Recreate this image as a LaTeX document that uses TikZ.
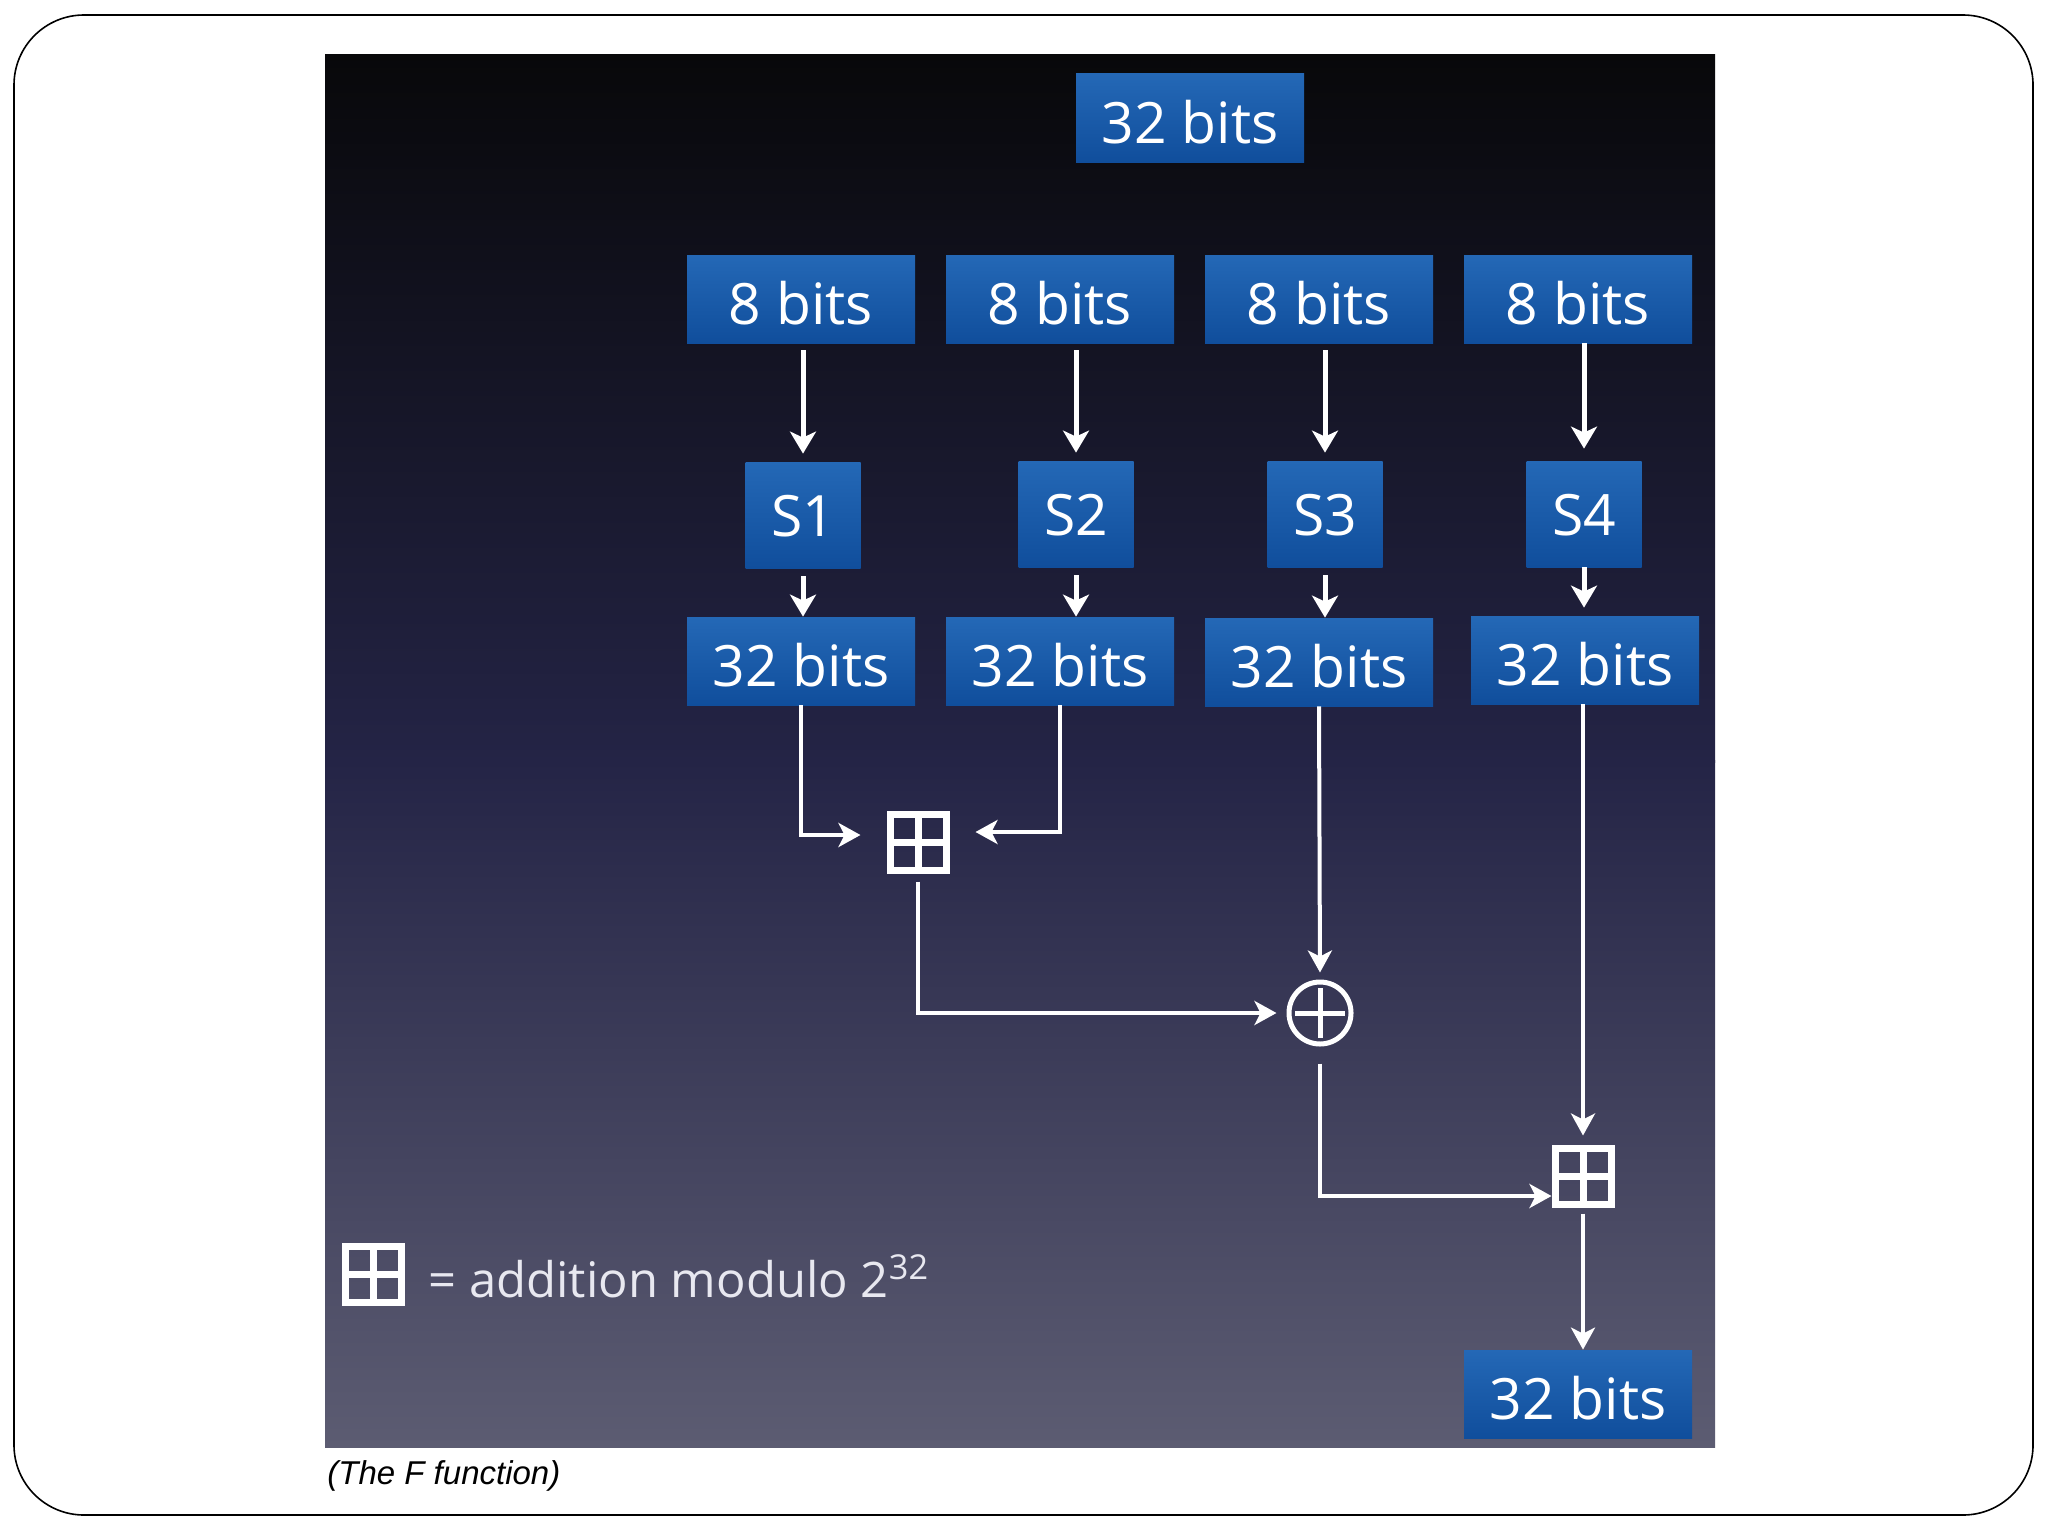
\documentclass[tikz,border=0pt]{standalone}
\usepackage{fontspec}
\setmainfont{Open Sans}
\newfontfamily\capfont{Liberation Sans}
\usetikzlibrary{arrows.meta}

\definecolor{boxtop}{RGB}{36,104,182}
\definecolor{boxbot}{RGB}{16,78,156}
\definecolor{paneltop}{RGB}{8,8,10}
\definecolor{panelmid}{RGB}{36,36,70}
\definecolor{panelbot}{RGB}{92,92,114}
\definecolor{legtext}{RGB}{232,232,240}

\tikzset{
  bitbox/.style={rectangle, top color=boxtop, bottom color=boxbot, text=white, inner sep=0pt,
    minimum width=114pt, minimum height=44pt, text height=25pt, text depth=0pt,
    font=\fontsize{28.5}{30}\selectfont},
  sbox/.style={bitbox, minimum width=57.5pt, minimum height=53pt, text height=21pt},
  addbox/.style={rectangle, draw=white, line width=3.5pt, minimum size=28pt, inner sep=0pt,
    path picture={\draw[white, line width=3.5pt]
      (path picture bounding box.north) -- (path picture bounding box.south)
      (path picture bounding box.west) -- (path picture bounding box.east);}},
  xorop/.style={circle, draw=white, line width=2.5pt, minimum size=31pt, inner sep=0pt,
    path picture={\draw[white, line width=2.5pt, shorten <=3pt, shorten >=3pt]
      (path picture bounding box.north) -- (path picture bounding box.south);
      \draw[white, line width=2.5pt, shorten <=3pt, shorten >=3pt]
      (path picture bounding box.west) -- (path picture bounding box.east);}},
  flow/.style={draw=white, line width=2.5pt, -{Stealth[length=11pt, width=13pt, inset=3pt]}},
  thinflow/.style={draw=white, line width=2pt, -{Stealth[length=11pt, width=12pt, inset=3pt]}},
}

\begin{document}
\begin{tikzpicture}[x=0.5pt, y=-0.5pt]

    \useasboundingbox (0,0) rectangle (2048,1536);

    % Slide frame and dark panel
    \draw[line width=0.8pt, rounded corners=35pt] (14,15) rectangle (2033,1515);
    \shade[top color=paneltop, bottom color=panelmid] (325,55) rectangle (1715,762);
    \shade[top color=panelmid, bottom color=panelbot] (325,760) rectangle (1715,1447);

    % Input word
    \node[bitbox] (In) at (1190,118) {32 bits};

    % Four bytes
    \node[bitbox] (B1) at (801,299) {8 bits};
    \node[bitbox] (B2) at (1060,299) {8 bits};
    \node[bitbox] (B3) at (1319,299) {8 bits};
    \node[bitbox] (B4) at (1578,299) {8 bits};

    % S-boxes
    \node[sbox] (S1) at (803,515) {S1};
    \node[sbox] (S2) at (1076,514) {S2};
    \node[sbox] (S3) at (1325,514) {S3};
    \node[sbox] (S4) at (1584,514) {S4};

    % S-box outputs
    \node[bitbox] (W1) at (801,661) {32 bits};
    \node[bitbox] (W2) at (1060,661) {32 bits};
    \node[bitbox] (W3) at (1319,662) {32 bits};
    \node[bitbox] (W4) at (1585,660) {32 bits};

    % Combining operators
    \node[addbox] (P1) at (918,842) {};
    \node[xorop] (X) at (1320,1013) {};
    \node[addbox] (P2) at (1583,1176) {};

    % Output word
    \node[bitbox] (Out) at (1578,1394) {32 bits};

    % Bytes into S-boxes
    \draw[flow, shorten <=3.5pt, shorten >=4pt] (S1.north |- B1.south) -- (S1.north);
    \draw[flow, shorten <=3.5pt, shorten >=4pt] (S2.north |- B2.south) -- (S2.north);
    \draw[flow, shorten <=3.5pt, shorten >=4pt] (S3.north |- B3.south) -- (S3.north);
    \draw[flow, shorten >=6pt] (S4.north |- B4.south) -- (S4.north);

    % S-boxes into 32 bit words
    \draw[flow, shorten <=4pt] (S1.south) -- (S1.south |- W1.north);
    \draw[flow, shorten <=4pt] (S2.south) -- (S2.south |- W2.north);
    \draw[flow, shorten <=4pt] (S3.south) -- (S3.south |- W3.north);
    \draw[flow, shorten >=4pt] (S4.south) -- (S4.south |- W4.north);

    % Mixing the words
    \draw[thinflow, shorten >=13pt] (W1.south) |- ([yshift=3.5pt]P1.west);
    \draw[thinflow, shorten >=13pt] (W2.south) |- ([yshift=5pt]P1.east);
    \draw[thinflow, shorten <=4pt, shorten >=5pt] (P1.south) |- (X.west);
    \draw[thinflow, shorten >=3.5pt] (W3.south) -- (X.north);
    \draw[thinflow, shorten <=8.5pt] (X.south) |- ([yshift=-10pt]P2.west);
    \draw[thinflow, shorten >=4.5pt] (P2.north |- W4.south) -- (P2.north);
    \draw[thinflow, shorten <=3pt] (P2.south) -- (P2.south |- Out.north);

    % Legend
    \node[addbox] (Leg) at (373,1274) {};
    \node[anchor=west, inner sep=0pt, text=legtext, font=\fontsize{24.5}{27}\selectfont] (LegText) at (428,1276)
        {= addition modulo 2\textsuperscript{32}};

    % Caption under the panel
    \node[anchor=west, inner sep=0pt, font=\capfont\itshape\fontsize{16.5}{18}\selectfont] (Cap) at (327,1476)
        {(The F function)};

\end{tikzpicture}
\end{document}
